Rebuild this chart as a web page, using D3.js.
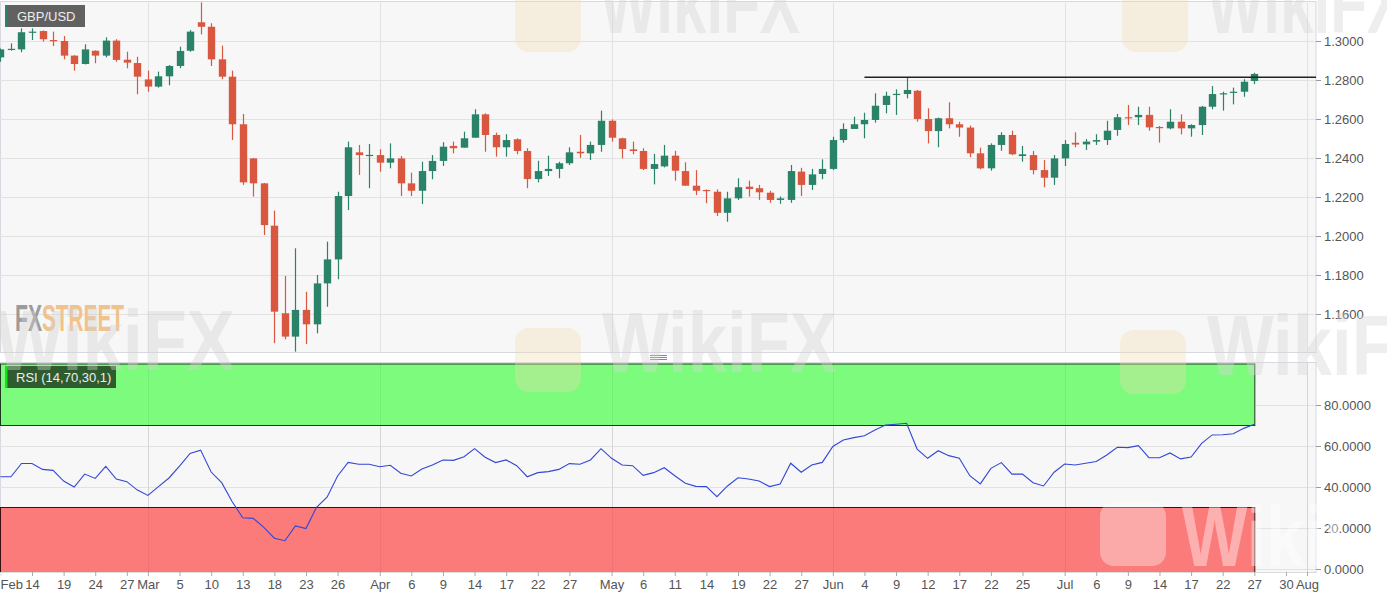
<!DOCTYPE html>
<html>
<head>
<meta charset="utf-8">
<script src="https://cdn.jsdelivr.net/npm/d3@7"></script>
<style>
body { margin: 0; background: #fff; }
svg { display: block; font-family: "Liberation Sans", Arial, sans-serif; }
</style>
</head>
<body>
<svg id="chart"></svg>
<script>
// GBP/USD daily, 11 Feb - 27 Jul 2020 (one value per trading day)
const opens = [1.2916,1.2957,1.2957,1.3045,1.3051,1.3005,1.3000,1.2925,1.2882,1.2950,
  1.2925,1.3002,1.2904,1.2887,1.2803,1.2766,1.2819,1.2872,1.2950,1.3096,
  1.3073,1.2906,1.2817,1.2573,1.2398,1.2270,1.2053,1.1604,1.1484,1.1621,
  1.1547,1.1757,1.1880,1.2205,1.2429,1.2413,1.2415,1.2376,1.2398,1.2270,
  1.2232,1.2333,1.2385,1.2462,1.2453,1.2504,1.2624,1.2518,1.2455,1.2496,
  1.2436,1.2292,1.2333,1.2344,1.2373,1.2432,1.2424,1.2467,1.2591,1.2501,
  1.2444,1.2436,1.2344,1.2357,1.2412,1.2333,1.2258,1.2236,1.2227,1.2119,
  1.2193,1.2253,1.2245,1.2222,1.2185,1.2185,1.2330,1.2262,1.2318,1.2344,
  1.2492,1.2549,1.2573,1.2595,1.2672,1.2726,1.2728,1.2745,1.2600,1.2538,
  1.2604,1.2573,1.2556,1.2424,1.2347,1.2467,1.2518,1.2410,1.2415,1.2338,
  1.2299,1.2398,1.2478,1.2470,1.2484,1.2492,1.2544,1.2609,1.2609,1.2621,
  1.2559,1.2552,1.2586,1.2552,1.2569,1.2663,1.2728,1.2735,1.2740,1.2795];
const highs = [1.2962,1.2988,1.3065,1.3065,1.3054,1.3048,1.3026,1.2927,1.2983,1.2952,
  1.3019,1.3009,1.2945,1.2919,1.2848,1.2843,1.2877,1.2971,1.3056,1.3198,
  1.3091,1.2976,1.2848,1.2626,1.2400,1.2272,1.2130,1.1795,1.1937,1.1714,
  1.1800,1.1971,1.2227,1.2484,1.2467,1.2472,1.2445,1.2475,1.2410,1.2325,
  1.2381,1.2415,1.2481,1.2484,1.2535,1.2650,1.2629,1.2530,1.2522,1.2501,
  1.2450,1.2386,1.2412,1.2381,1.2455,1.2518,1.2484,1.2643,1.2598,1.2504,
  1.2484,1.2450,1.2421,1.2467,1.2437,1.2378,1.2338,1.2239,1.2239,1.2227,
  1.2296,1.2284,1.2262,1.2232,1.2203,1.2364,1.2350,1.2344,1.2393,1.2509,
  1.2578,1.2612,1.2632,1.2732,1.2740,1.2752,1.2814,1.2749,1.2655,1.2607,
  1.2686,1.2586,1.2566,1.2453,1.2475,1.2532,1.2540,1.2462,1.2436,1.2390,
  1.2415,1.2492,1.2532,1.2497,1.2522,1.2591,1.2626,1.2672,1.2663,1.2663,
  1.2564,1.2650,1.2624,1.2573,1.2667,1.2769,1.2740,1.2761,1.2804,1.2837];
const lows = [1.2894,1.2950,1.2942,1.3005,1.2997,1.2974,1.2906,1.2848,1.2880,1.2886,
  1.2916,1.2894,1.2860,1.2727,1.2740,1.2761,1.2773,1.2860,1.2945,1.3034,
  1.2872,1.2804,1.2492,1.2262,1.2202,1.2005,1.1450,1.1470,1.1407,1.1446,
  1.1501,1.1637,1.1778,1.2133,1.2313,1.2245,1.2330,1.2347,1.2205,1.2205,
  1.2164,1.2291,1.2359,1.2424,1.2453,1.2504,1.2432,1.2407,1.2407,1.2419,
  1.2245,1.2275,1.2308,1.2296,1.2364,1.2401,1.2390,1.2432,1.2484,1.2398,
  1.2419,1.2338,1.2265,1.2352,1.2284,1.2258,1.2210,1.2168,1.2103,1.2073,
  1.2185,1.2202,1.2185,1.2170,1.2165,1.2170,1.2205,1.2236,1.2291,1.2338,
  1.2478,1.2549,1.2501,1.2581,1.2629,1.2621,1.2706,1.2586,1.2475,1.2455,
  1.2552,1.2509,1.2404,1.2342,1.2335,1.2437,1.2415,1.2381,1.2316,1.2250,
  1.2262,1.2359,1.2455,1.2441,1.2467,1.2467,1.2514,1.2569,1.2569,1.2540,
  1.2479,1.2547,1.2521,1.2509,1.2518,1.2650,1.2643,1.2675,1.2714,1.2779];
const closes = [1.2957,1.2960,1.3045,1.3048,1.3009,1.3001,1.2925,1.2882,1.2957,1.2925,
  1.3002,1.2903,1.2889,1.2817,1.2766,1.2819,1.2872,1.2949,1.3048,1.3073,
  1.2906,1.2817,1.2573,1.2275,1.2270,1.2056,1.1612,1.1484,1.1621,1.1547,
  1.1757,1.1880,1.2205,1.2455,1.2415,1.2416,1.2376,1.2398,1.2270,1.2232,
  1.2333,1.2385,1.2458,1.2450,1.2501,1.2624,1.2518,1.2455,1.2492,1.2436,
  1.2292,1.2333,1.2344,1.2373,1.2429,1.2424,1.2467,1.2591,1.2504,1.2446,
  1.2436,1.2344,1.2369,1.2412,1.2335,1.2258,1.2232,1.2231,1.2119,1.2193,
  1.2250,1.2241,1.2224,1.2185,1.2193,1.2333,1.2262,1.2316,1.2344,1.2492,
  1.2549,1.2573,1.2595,1.2668,1.2719,1.2729,1.2749,1.2600,1.2538,1.2604,
  1.2573,1.2556,1.2424,1.2347,1.2467,1.2518,1.2419,1.2419,1.2338,1.2299,
  1.2398,1.2472,1.2469,1.2484,1.2492,1.2540,1.2609,1.2604,1.2621,1.2557,
  1.2557,1.2586,1.2552,1.2569,1.2663,1.2728,1.2732,1.2740,1.2791,1.2831];

// RSI (14) as drawn in the lower pane
const rsi = [45.0,45.0,51.5,51.5,48.6,48.1,42.9,40.0,46.3,44.2,
  50.1,43.9,42.6,38.5,35.9,40.2,44.4,50.2,56.4,58.0,
  47.3,42.1,32.8,25.0,24.7,20.3,15.0,13.8,21.0,19.7,
  30.1,35.0,45.4,52.0,51.1,51.1,49.9,50.6,46.7,45.4,
  48.8,50.7,53.2,53.0,54.8,58.7,54.5,51.9,53.2,50.4,
  45.0,47.0,47.5,48.6,51.4,51.1,53.2,58.7,54.0,50.7,
  50.4,45.7,47.0,49.4,45.5,41.8,40.3,40.2,35.3,40.5,
  44.5,43.9,42.9,40.2,41.5,51.6,47.2,50.7,52.0,59.8,
  62.9,64.1,65.0,67.8,70.2,70.6,71.1,58.5,54.0,57.7,
  55.3,54.0,45.5,41.5,49.1,51.9,46.3,46.3,42.1,40.5,
  47.2,51.2,50.7,51.6,52.4,55.6,59.4,59.2,60.2,54.3,
  54.3,56.6,53.7,54.6,61.3,65.4,65.5,66.0,68.6,70.6];

const tickDates = ["2020-02-11","2020-02-14","2020-02-19","2020-02-24","2020-02-27","2020-03-02","2020-03-05",
  "2020-03-10","2020-03-13","2020-03-18","2020-03-23","2020-03-26","2020-04-01","2020-04-06","2020-04-09",
  "2020-04-14","2020-04-17","2020-04-22","2020-04-27","2020-05-01","2020-05-06","2020-05-11","2020-05-14",
  "2020-05-19","2020-05-22","2020-05-27","2020-06-01","2020-06-04","2020-06-09","2020-06-12","2020-06-17",
  "2020-06-22","2020-06-25","2020-07-01","2020-07-06","2020-07-09","2020-07-14","2020-07-17","2020-07-22",
  "2020-07-27","2020-07-30","2020-08-03"];
const tickLabels = ["Feb","14","19","24","27","Mar","5","10","13","18","23","26","Apr","6","9",
  "14","17","22","27","May","6","11","14","19","22","27","Jun","4","9","12","17",
  "22","25","Jul","6","9","14","17","22","27","30","Aug"];
const monthStarts = ["2020-03-02","2020-04-01","2020-05-01","2020-06-01","2020-07-01","2020-08-03"];

const priceTicks = [1.16,1.18,1.20,1.22,1.24,1.26,1.28,1.30];
const rsiTicks = [0,20,40,60,80];
const rsiLevels = [70,30];
const resistance = 1.2814;
const resistanceFrom = "2020-06-04";

const width = 1387;
const height = 598;
const plotRight = 1316;
const pricePane = {top: 1, bottom: 352};
const rsiPane = {top: 362, bottom: 572};

const fmt = d3.timeFormat("%Y-%m-%d");
const days = d3.timeDay.range(new Date(2020,1,11), new Date(2020,7,4))
               .filter(d => d.getDay() % 6 !== 0)
               .map(fmt);

const candles = closes.map((c,i) => ({
    day: days[i], o: opens[i], h: highs[i], l: lows[i], c: c
}));

const render = () => {
    const svg = d3.select('#chart')
                  .attr('width', width)
                  .attr('height', height);

    const x = d3.scalePoint().domain(days).range([0.4, 1307]);
    const y = d3.scaleLinear().domain([1.16, 1.30]).range([314, 41]);
    const yr = d3.scaleLinear().domain([0, 100]).range([569, 364]);
    const bodyW = x.step() * 0.7;

    const defs = svg.append('defs');
    defs.append('clipPath').attr('id','clipTop')
        .append('rect').attr('x',0).attr('y',pricePane.top)
        .attr('width',plotRight).attr('height',pricePane.bottom-pricePane.top);
    defs.append('clipPath').attr('id','clipBot')
        .append('rect').attr('x',0).attr('y',rsiPane.top)
        .attr('width',plotRight).attr('height',rsiPane.bottom-rsiPane.top);

    // pane backgrounds
    [pricePane, rsiPane].forEach(p => {
        svg.append('rect')
           .attr('x',0.5).attr('y',p.top+0.5)
           .attr('width',plotRight-0.5).attr('height',p.bottom-p.top)
           .attr('fill','#f7f7f7')
           .attr('stroke','#d8d8e0');
    });

    // ---------- price pane ----------
    const top = svg.append('g').attr('clip-path','url(#clipTop)');

    top.selectAll('line.hgrid')
       .data(priceTicks)
       .join('line')
       .attr('class','hgrid')
       .attr('x1',0).attr('x2',plotRight)
       .attr('y1',d => Math.round(y(d))+0.5).attr('y2',d => Math.round(y(d))+0.5)
       .attr('stroke','#e2e2e2');

    top.selectAll('line.vgrid')
       .data(monthStarts)
       .join('line')
       .attr('class','vgrid')
       .attr('x1',d => Math.round(x(d))+0.5).attr('x2',d => Math.round(x(d))+0.5)
       .attr('y1',pricePane.top).attr('y2',pricePane.bottom)
       .attr('stroke','#e2e2e2');

    // FXStreet mark
    const logo = top.append('g').attr('opacity',0.85);
    logo.append('text').attr('x',15).attr('y',331)
        .attr('font-size',36).attr('font-weight','bold')
        .attr('textLength',27).attr('lengthAdjust','spacingAndGlyphs')
        .attr('fill','#8c8c8c').text('FX');
    logo.append('text').attr('x',42).attr('y',331)
        .attr('font-size',36).attr('font-weight','bold')
        .attr('textLength',82).attr('lengthAdjust','spacingAndGlyphs')
        .attr('fill','#f2b97a').text('STREET');

    const colorOf = d => d.c >= d.o ? '#2a8269' : '#d9573f';

    top.selectAll('line.wick')
       .data(candles)
       .join('line')
       .attr('class','wick')
       .attr('x1',d => Math.round(x(d.day))+0.5)
       .attr('x2',d => Math.round(x(d.day))+0.5)
       .attr('y1',d => y(d.h)).attr('y2',d => y(d.l))
       .attr('stroke',colorOf).attr('stroke-width',1.2);

    top.selectAll('rect.body')
       .data(candles)
       .join('rect')
       .attr('class','body')
       .attr('x',d => Math.round(x(d.day)) + 0.5 - bodyW/2)
       .attr('width',bodyW)
       .attr('y',d => y(Math.max(d.o,d.c)))
       .attr('height',d => Math.max(1.2, Math.abs(y(d.o)-y(d.c))))
       .attr('fill',colorOf);

    top.append('line')
       .attr('x1',x(resistanceFrom)).attr('x2',plotRight)
       .attr('y1',y(resistance)).attr('y2',y(resistance))
       .attr('stroke','#222').attr('stroke-width',1.3);

    // GBP/USD tag
    const tag = svg.append('g');
    tag.append('rect').attr('x',5).attr('y',5).attr('width',80).attr('height',22)
       .attr('fill','#545454').attr('opacity',0.92);
    tag.append('rect').attr('x',5).attr('y',5).attr('width',2.5).attr('height',22)
       .attr('fill','#2a8269');
    tag.append('text').attr('x',17).attr('y',21).attr('font-size',13)
       .attr('fill','#eee').text('GBP/USD');

    const priceAxis = svg.append('g')
       .attr('transform',`translate(${plotRight},0)`)
       .call(d3.axisRight(y).tickValues(priceTicks).tickFormat(d3.format('.4f')).tickSize(5).tickPadding(3));
    priceAxis.select('.domain').remove();
    priceAxis.selectAll('line').attr('stroke','#999');
    priceAxis.selectAll('text').attr('font-size',13).attr('fill','#555')
       .attr('font-family','"Liberation Sans", Arial, sans-serif');

    // pane separator handle
    [355,357,359].forEach(v => {
        svg.append('line').attr('x1',650).attr('x2',667)
           .attr('y1',v+0.5).attr('y2',v+0.5).attr('stroke','#888');
    });

    // ---------- RSI pane ----------
    const bot = svg.append('g').attr('clip-path','url(#clipBot)');

    bot.selectAll('line.hgrid')
       .data(rsiTicks)
       .join('line')
       .attr('class','hgrid')
       .attr('x1',0).attr('x2',plotRight)
       .attr('y1',d => Math.round(yr(d))+0.5).attr('y2',d => Math.round(yr(d))+0.5)
       .attr('stroke','#e2e2e2');

    bot.selectAll('line.vgrid')
       .data(monthStarts)
       .join('line')
       .attr('class','vgrid')
       .attr('x1',d => Math.round(x(d))+0.5).attr('x2',d => Math.round(x(d))+0.5)
       .attr('y1',rsiPane.top).attr('y2',rsiPane.bottom)
       .attr('stroke','#e2e2e2');

    const lastX = x(days[closes.length-1]);
    bot.append('rect')
       .attr('x',0.5).attr('y',yr(100))
       .attr('width',lastX).attr('height',yr(rsiLevels[0]) - yr(100))
       .attr('fill','#7dfb7d').attr('stroke','#1c3a1c').attr('stroke-width',1);
    bot.append('rect')
       .attr('x',0.5).attr('y',yr(rsiLevels[1]))
       .attr('width',lastX).attr('height',rsiPane.bottom - yr(rsiLevels[1]) + 2)
       .attr('fill','#fb7b7b').attr('stroke','#3a1010').attr('stroke-width',1);

    // month lines show faintly through the zones
    bot.selectAll('line.vgrid2')
       .data(monthStarts)
       .join('line')
       .attr('class','vgrid2')
       .attr('x1',d => Math.round(x(d))+0.5).attr('x2',d => Math.round(x(d))+0.5)
       .attr('y1',rsiPane.top).attr('y2',rsiPane.bottom)
       .attr('stroke','#000').attr('stroke-opacity',0.05);

    const line = d3.line()
                   .x((d,i) => x(days[i]))
                   .y(d => yr(d));
    bot.append('path')
       .datum(rsi)
       .attr('d',line)
       .attr('fill','none')
       .attr('stroke','#3347d6')
       .attr('stroke-width',1.1);

    const rtag = svg.append('g');
    rtag.append('rect').attr('x',5).attr('y',366).attr('width',111).attr('height',22)
        .attr('fill','#2e5c2e');
    rtag.append('rect').attr('x',5).attr('y',366).attr('width',2.5).attr('height',22)
        .attr('fill','#14e014');
    rtag.append('text').attr('x',16).attr('y',382).attr('font-size',13)
        .attr('fill','#eee').text('RSI (14,70,30,1)');

    const rsiAxis = svg.append('g')
       .attr('transform',`translate(${plotRight},0)`)
       .call(d3.axisRight(yr).tickValues(rsiTicks).tickFormat(d3.format('.4f')).tickSize(5).tickPadding(3));
    rsiAxis.select('.domain').remove();
    rsiAxis.selectAll('line').attr('stroke','#999');
    rsiAxis.selectAll('text').attr('font-size',13).attr('fill','#555')
       .attr('font-family','"Liberation Sans", Arial, sans-serif');

    const xAxis = svg.append('g')
       .attr('transform',`translate(0,${rsiPane.bottom})`)
       .call(d3.axisBottom(x).tickValues(tickDates)
               .tickFormat((d,i) => tickLabels[i]).tickSize(4).tickPadding(4));
    xAxis.select('.domain').attr('stroke','#ddd');
    xAxis.selectAll('line').attr('stroke','#aaa');
    xAxis.selectAll('text').attr('font-size',13).attr('fill','#555')
       .attr('font-family','"Liberation Sans", Arial, sans-serif');
    xAxis.select('.tick line').remove();
    xAxis.select('.tick text').attr('text-anchor','start').attr('x',-0.4);

    // WikiFX watermarks
    const marks = [
        {lx: 515, ly: -12, tx: 600, ty: 33, w: 200, fill: '#d6d6d6'},
        {lx: 1122, ly: -12, tx: 1207, ty: 33, w: 200, fill: '#d6d6d6'},
        {lx: null, tx: -5, ty: 370, w: 240, fill: '#d2d2d2'},
        {lx: 515, ly: 328, tx: 602, ty: 372, w: 235, fill: '#d6d6d6'},
        {lx: 1120, ly: 330, tx: 1207, ty: 375, w: 235, fill: '#d6d6d6'},
        {lx: 1100, ly: 502, tx: 1182, ty: 566, w: 230, fill: '#ffffff'}
    ];
    const wm = svg.append('g').attr('pointer-events','none');
    marks.forEach(m => {
        if (m.lx !== null) {
            wm.append('rect').attr('x',m.lx).attr('y',m.ly)
              .attr('width',66).attr('height',64).attr('rx',14)
              .attr('fill', m.fill === '#ffffff' ? '#ffffff' : '#f1dcae')
              .attr('opacity',0.35);
        }
        wm.append('text').attr('x',m.tx).attr('y',m.ty)
          .attr('font-size',86).attr('font-weight','bold')
          .attr('textLength',m.w).attr('lengthAdjust','spacingAndGlyphs')
          .attr('fill',m.fill).attr('opacity',0.4)
          .text('WikiFX');
    });
}

render();
</script>
</body>
</html>
